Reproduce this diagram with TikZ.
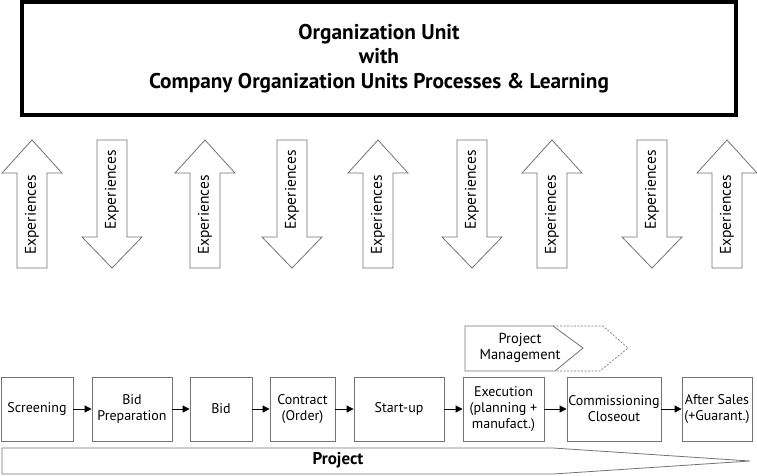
\documentclass[tikz,border=0pt]{standalone}
\usepackage{fontspec}
\setmainfont{PT Sans}
\usetikzlibrary{arrows.meta}

\begin{document}
\begin{tikzpicture}[x=1pt, y=-1pt, >={Triangle[length=7pt,width=7pt]},
  stage/.style={draw=black!55, line width=0.8pt, minimum height=64pt, align=center,
    inner sep=1pt, font=\fontsize{14}{16}\selectfont},
  expbox/.style={draw=black!55, line width=0.8pt, fill=white},
  explabel/.style={rotate=90, inner sep=0pt, font=\fontsize{15.5}{18}\selectfont}]
  \useasboundingbox (0,0) rectangle (757,475);

  % organization unit on top
  \node[draw, line width=3.5pt, minimum width=714pt, minimum height=113pt, align=center,
        font=\bfseries\fontsize{21.3}{24.5}\selectfont] (org) at (379,58.5)
        {Organization Unit\\with\\Company Organization Units Processes \& Learning};

  % experiences going up to the organization
  \foreach \c [count=\i] in {32,205,378,552,727} {
    \draw[expbox] (\c-15,268) -- (\c-15,173) -- (\c-30,173) -- (\c,140) -- (\c+30,173)
      -- (\c+15,173) -- (\c+15,268) -- cycle;
    \node[explabel] (up\i) at (\c,215) {Experiences};
  }
  % experiences coming down to the project
  \foreach \c [count=\i] in {112,292,472,652} {
    \draw[expbox] (\c-15,140) -- (\c+15,140) -- (\c+15,237) -- (\c+30,237) -- (\c,268)
      -- (\c-30,237) -- (\c-15,237) -- cycle;
    \node[explabel] (down\i) at (\c,190) {Experiences};
  }

  % project management chevron
  \draw[black!55, dash pattern=on 2pt off 1.5pt, line width=0.6pt]
    (553,326) -- (603,326) -- (628,348) -- (600,371) -- (555,371);
  \draw[black!55, line width=0.8pt]
    (465,326) -- (553,326) -- (583,348) -- (555,371) -- (465,371) -- cycle;
  \node[align=center, font=\fontsize{14.5}{15.5}\selectfont] (pm) at (520,348) {Project\\Management};

  % project phases
  \node[stage, minimum width=72pt] (scr) at (37,409) {Screening};
  \node[stage, minimum width=80pt] (prep) at (132,409) {Bid\\Preparation};
  \node[stage, minimum width=62pt] (bid) at (221,409) {Bid};
  \node[stage, minimum width=65pt] (contr) at (302.5,409) {Contract\\(Order)};
  \node[stage, minimum width=90pt] (start) at (399,409) {Start-up};
  \node[stage, minimum width=81pt] (exec) at (503.5,409) {Execution\\(planning +\\manufact.)};
  \node[stage, minimum width=94pt] (comm) at (614,409) {Commissioning\\Closeout};
  \node[stage, minimum width=70pt] (after) at (717,409) {After Sales\\(+Guarant.)};

  \foreach \a/\b in {scr/prep, prep/bid, bid/contr, contr/start, start/exec, exec/comm, comm/after}
    \draw[->, line width=0.8pt] (\a) -- (\b);

  % project arrow at the bottom
  \draw[black!55, line width=0.8pt] (2,448) -- (553,448) -- (750,461) -- (553,474) -- (2,474) -- cycle;
  \node[font=\bfseries\fontsize{17}{18}\selectfont] (proj) at (338,460) {Project};
\end{tikzpicture}
\end{document}
